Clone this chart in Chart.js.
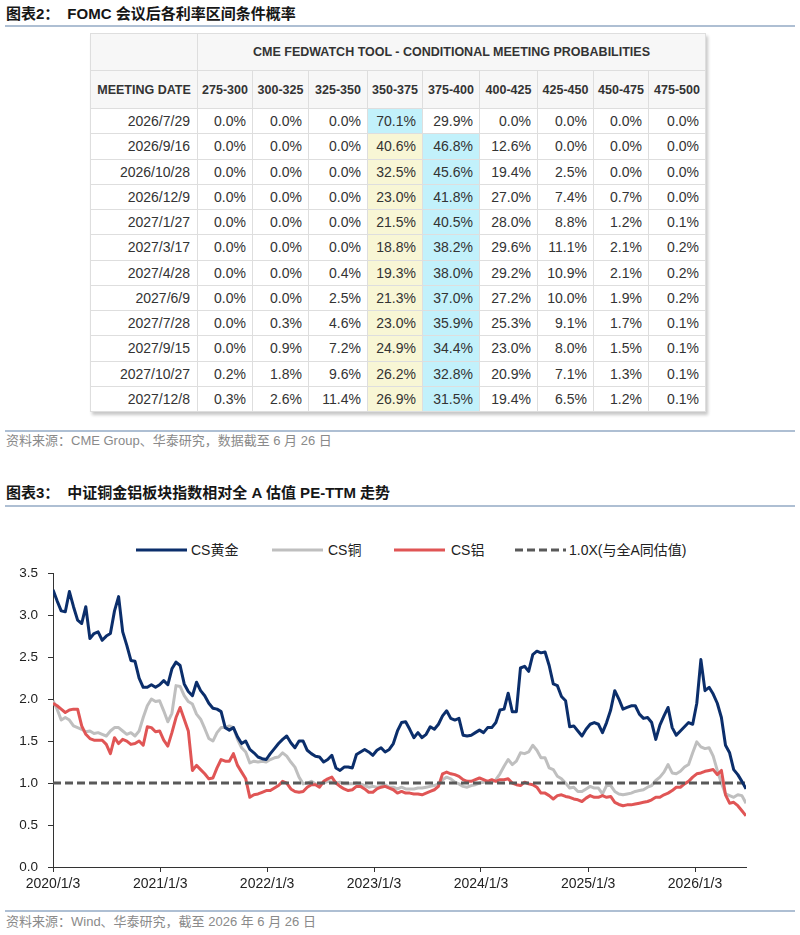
<!DOCTYPE html>
<html>
<head>
<meta charset="utf-8">
<script src="https://cdn.jsdelivr.net/npm/chart.js@4.4.1/dist/chart.umd.min.js"></script>
<style>
  body { margin: 0; width: 800px; height: 935px; position: relative; overflow: hidden; background: #fff;
         font-family: "Liberation Sans", Arial, "Noto Sans CJK SC", sans-serif; }
  .title { position: absolute; left: 6px; font-size: 15px; line-height: 20px; font-weight: bold; color: #161616; white-space: nowrap; }
  .title span { margin-left: 8px; }
  .rule { position: absolute; left: 5px; width: 790px; border-top: 2px solid #aebfd3; }
  .src { position: absolute; left: 6px; font-size: 13px; line-height: 18px; color: #8a8a8a; white-space: nowrap; }
  #fedTable { position: absolute; left: 90px; top: 33px; border-collapse: collapse; table-layout: fixed; width: 615px;
              box-shadow: 2px 3px 3px rgba(0,0,0,0.22); color: #333; }
  #fedTable td, #fedTable th { border: 1px solid #dedede; padding: 0; overflow: hidden; white-space: nowrap; }
  #fedTable th { background: #f7f7f7; font-size: 12.5px; font-weight: bold; text-align: center; }
  #fedTable td { font-size: 14px; text-align: right; padding-right: 6px; background: #fff; }
  #fedTable td.date { padding-right: 7px; }
  #fedTable td.max { background: #c2f1fb; }
  #fedTable td.cur { background: #f8f6d5; }
  #legend { position: absolute; top: 541px; left: 0; width: 800px; height: 18px; font-size: 14px; color: #222; }
  #legend div { position: absolute; top: 0; line-height: 18px; white-space: nowrap; }
  #legend svg { position: absolute; top: 7px; }
  #peChart { position: absolute; left: 0; top: 555px; }
</style>
</head>
<body>

<div class="title" style="top:4px">图表2：<span>FOMC 会议后各利率区间条件概率</span></div>
<div class="rule" style="top:25px"></div>

<table id="fedTable"></table>

<div class="rule" style="top:430px"></div>
<div class="src" style="top:432px">资料来源：CME Group、华泰研究，数据截至 6 月 26 日</div>

<div class="title" style="top:483px">图表3：<span>中证铜金铝板块指数相对全 A 估值 PE-TTM 走势</span></div>
<div class="rule" style="top:505px"></div>

<div id="legend"></div>
<canvas id="peChart" width="800" height="345"></canvas>

<div class="rule" style="top:910px"></div>
<div class="src" style="top:913px">资料来源：Wind、华泰研究，截至 2026 年 6 月 26 日</div>

<script>
// ---- FOMC table ----
const tableTitle = 'CME FEDWATCH TOOL - CONDITIONAL MEETING PROBABILITIES';
const meetingDates = ['2026/7/29', '2026/9/16', '2026/10/28', '2026/12/9', '2027/1/27', '2027/3/17',
                      '2027/4/28', '2027/6/9', '2027/7/28', '2027/9/15', '2027/10/27', '2027/12/8'];
const rateRanges = ['275-300', '300-325', '325-350', '350-375', '375-400', '400-425', '425-450', '450-475', '475-500'];
const currentRange = '350-375';
const probabilities = [
  [0.0, 0.0, 0.0, 70.1, 29.9, 0.0, 0.0, 0.0, 0.0],
  [0.0, 0.0, 0.0, 40.6, 46.8, 12.6, 0.0, 0.0, 0.0],
  [0.0, 0.0, 0.0, 32.5, 45.6, 19.4, 2.5, 0.0, 0.0],
  [0.0, 0.0, 0.0, 23.0, 41.8, 27.0, 7.4, 0.7, 0.0],
  [0.0, 0.0, 0.0, 21.5, 40.5, 28.0, 8.8, 1.2, 0.1],
  [0.0, 0.0, 0.0, 18.8, 38.2, 29.6, 11.1, 2.1, 0.2],
  [0.0, 0.0, 0.4, 19.3, 38.0, 29.2, 10.9, 2.1, 0.2],
  [0.0, 0.0, 2.5, 21.3, 37.0, 27.2, 10.0, 1.9, 0.2],
  [0.0, 0.3, 4.6, 23.0, 35.9, 25.3, 9.1, 1.7, 0.1],
  [0.0, 0.9, 7.2, 24.9, 34.4, 23.0, 8.0, 1.5, 0.1],
  [0.2, 1.8, 9.6, 26.2, 32.8, 20.9, 7.1, 1.3, 0.1],
  [0.3, 2.6, 11.4, 26.9, 31.5, 19.4, 6.5, 1.2, 0.1]
];
const colWidths = [107, 55, 56, 59, 55, 57, 58, 56, 55, 57];

let html = '<colgroup>' + colWidths.map(w => `<col style="width:${w}px">`).join('') + '</colgroup>';
html += `<tr style="height:37px"><th></th><th colspan="${rateRanges.length}">${tableTitle}</th></tr>`;
html += '<tr style="height:38px"><th>MEETING DATE</th>' + rateRanges.map(r => `<th>${r}</th>`).join('') + '</tr>';
probabilities.forEach((row, r) => {
  const max = Math.max(...row);
  html += `<tr style="height:25.25px"><td class="date">${meetingDates[r]}</td>`;
  row.forEach((p, c) => {
    let cls = '';
    if (p === max) cls = 'max';
    else if (rateRanges[c] === currentRange) cls = 'cur';
    html += `<td class="${cls}">${p.toFixed(1)}%</td>`;
  });
  html += '</tr>';
});
document.getElementById('fedTable').innerHTML = html;

// ---- PE-TTM relative valuation, one point every 14 days from 2020/1/3 ----
const startDate = '2020/1/3';
const stepDays = 14;
const tickLabels = ['2020/1/3', '2021/1/3', '2022/1/3', '2023/1/3', '2024/1/3', '2025/1/3', '2026/1/3'];

const gold = [
  3.30, 3.17, 3.05, 3.04, 3.28, 3.10, 2.94, 2.90, 3.10, 2.72,
  2.78, 2.80, 2.70, 2.75, 2.78, 3.05, 3.22, 2.80, 2.64, 2.46,
  2.45, 2.25, 2.14, 2.14, 2.17, 2.14, 2.17, 2.22, 2.17, 2.36,
  2.44, 2.40, 2.18, 2.09, 2.04, 2.20, 2.10, 2.04, 1.95, 1.89,
  1.88, 1.85, 1.66, 1.63, 1.66, 1.55, 1.47, 1.50, 1.40, 1.36,
  1.31, 1.29, 1.28, 1.35, 1.41, 1.47, 1.52, 1.56, 1.48, 1.42,
  1.50, 1.50, 1.39, 1.35, 1.32, 1.31, 1.25, 1.28, 1.33, 1.18,
  1.15, 1.19, 1.19, 1.18, 1.34, 1.37, 1.40, 1.37, 1.33, 1.39,
  1.42, 1.37, 1.40, 1.47, 1.62, 1.72, 1.73, 1.64, 1.54, 1.60,
  1.54, 1.58, 1.67, 1.64, 1.70, 1.80, 1.86, 1.77, 1.75, 1.77,
  1.57, 1.56, 1.57, 1.60, 1.63, 1.60, 1.66, 1.66, 1.72, 1.87,
  1.88, 2.07, 1.85, 1.85, 2.37, 2.39, 2.33, 2.53, 2.57, 2.55,
  2.56, 2.40, 2.18, 2.16, 2.03, 1.98, 1.67, 1.68, 1.62, 1.56,
  1.64, 1.70, 1.72, 1.70, 1.60, 1.72, 1.87, 2.10, 2.00, 1.88,
  1.90, 1.92, 1.92, 1.82, 1.77, 1.78, 1.72, 1.52, 1.69, 1.80,
  1.90, 1.66, 1.57, 1.62, 1.67, 1.72, 1.70, 1.95, 2.47, 2.10,
  2.14, 2.06, 1.95, 1.78, 1.45, 1.36, 1.16, 1.10, 1.02, 0.93
];
const copper = [
  1.98, 1.88, 1.75, 1.78, 1.75, 1.68, 1.66, 1.64, 1.61, 1.62,
  1.59, 1.60, 1.58, 1.56, 1.62, 1.66, 1.66, 1.62, 1.58, 1.60,
  1.56, 1.62, 1.78, 1.92, 2.00, 1.97, 1.98, 1.86, 1.73, 1.83,
  2.16, 2.15, 2.04, 1.97, 1.94, 1.82, 1.76, 1.65, 1.53, 1.50,
  1.60, 1.66, 1.66, 1.68, 1.66, 1.52, 1.42, 1.37, 1.24, 1.26,
  1.25, 1.26, 1.25, 1.28, 1.30, 1.31, 1.36, 1.32, 1.25, 1.19,
  1.07, 0.99, 1.00, 1.02, 0.99, 0.98, 1.00, 1.02, 1.01, 1.00,
  1.01, 0.99, 0.99, 0.99, 1.00, 0.99, 0.97, 0.95, 0.96, 0.95,
  0.96, 0.98, 0.95, 0.95, 0.93, 0.95, 0.93, 0.93, 0.93, 0.94,
  0.94, 0.95, 0.96, 0.97, 0.99, 1.04, 1.07, 1.05, 1.01, 0.99,
  0.96, 0.95, 0.97, 0.98, 1.00, 1.01, 1.02, 1.01, 1.04, 1.11,
  1.20, 1.28, 1.22, 1.26, 1.36, 1.35, 1.37, 1.45, 1.39, 1.30,
  1.30, 1.18, 1.16, 1.08, 1.05, 1.00, 0.94, 0.95, 0.90, 0.90,
  0.93, 0.96, 0.94, 0.94, 0.87, 0.97, 0.97, 0.90, 0.87, 0.86,
  0.87, 0.88, 0.90, 0.91, 0.92, 0.95, 0.97, 1.03, 1.07, 1.13,
  1.22, 1.12, 1.11, 1.14, 1.19, 1.22, 1.36, 1.49, 1.43, 1.41,
  1.42, 1.32, 1.15, 1.00, 0.87, 0.85, 0.83, 0.86, 0.85, 0.76
];
const aluminium = [
  1.95, 1.92, 1.88, 1.84, 1.87, 1.88, 1.88, 1.68, 1.58, 1.53,
  1.51, 1.51, 1.51, 1.46, 1.35, 1.54, 1.47, 1.52, 1.50, 1.46,
  1.47, 1.50, 1.45, 1.67, 1.66, 1.61, 1.62, 1.51, 1.44, 1.60,
  1.78, 1.90, 1.76, 1.62, 1.15, 1.21, 1.16, 1.11, 1.05, 1.06,
  1.18, 1.28, 1.26, 1.26, 1.35, 1.21, 1.13, 1.05, 0.83, 0.86,
  0.87, 0.89, 0.91, 0.91, 0.94, 0.97, 1.02, 1.00, 0.93, 0.90,
  0.89, 0.90, 0.95, 0.98, 0.98, 0.95, 1.02, 1.05, 1.07, 1.00,
  0.96, 0.93, 0.91, 0.92, 0.96, 0.96, 0.93, 0.89, 0.89, 0.93,
  0.95, 0.96, 0.94, 0.92, 0.88, 0.90, 0.88, 0.88, 0.87, 0.87,
  0.86, 0.88, 0.90, 0.92, 0.96, 1.11, 1.13, 1.11, 1.10, 1.08,
  1.04, 1.02, 1.02, 1.04, 1.06, 1.04, 1.02, 1.04, 1.02, 1.04,
  1.04, 1.05, 1.00, 0.98, 0.97, 1.01, 0.99, 0.98, 0.95, 0.88,
  0.88, 0.85, 0.81, 0.85, 0.86, 0.84, 0.83, 0.81, 0.80, 0.78,
  0.82, 0.85, 0.83, 0.83, 0.85, 0.83, 0.84, 0.77, 0.745, 0.73,
  0.74, 0.74, 0.75, 0.76, 0.77, 0.78, 0.80, 0.83, 0.83, 0.86,
  0.88, 0.91, 0.95, 0.95, 0.99, 1.02, 1.07, 1.11, 1.12, 1.14,
  1.15, 1.16, 1.10, 1.15, 0.86, 0.76, 0.77, 0.73, 0.67, 0.61
];
const parityLevel = 1.0;

const seriesNames = ['CS黄金', 'CS铜', 'CS铝', '1.0X(与全A同估值)'];
const seriesColors = ['#0b2e6b', '#bfbfbf', '#e05555', '#595959'];

const toUTC = s => { const [y, m, d] = s.split('/').map(Number); return Date.UTC(y, m - 1, d); };
const dayOf = s => (toUTC(s) - toUTC(startDate)) / 864e5;
const days = gold.map((_, i) => i * stepDays);
const tickDays = tickLabels.map(dayOf);
const parity = days.map(() => parityLevel);

// legend (html)
const legendPos = [[136, 191], [272, 328], [394, 451], [515, 569]];
document.getElementById('legend').innerHTML = seriesNames.map((name, i) => {
  const [lx, tx] = legendPos[i];
  const dash = i === 3 ? ' stroke-dasharray="8 4"' : '';
  return `<svg style="left:${lx}px" width="51" height="4"><line x1="0" y1="2" x2="51" y2="2" stroke="${seriesColors[i]}" stroke-width="3"${dash}/></svg>` +
         `<div style="left:${tx}px">${name}</div>`;
}).join('');

Chart.defaults.font.family = '"Liberation Sans", Arial, sans-serif';
Chart.defaults.color = '#222';

const axisColor = '#333';

new Chart(document.getElementById('peChart'), {
  type: 'line',
  data: {
    labels: days,
    datasets: [
      { label: seriesNames[0], data: gold, borderColor: seriesColors[0], order: 0 },
      { label: seriesNames[1], data: copper, borderColor: seriesColors[1], order: 3 },
      { label: seriesNames[2], data: aluminium, borderColor: seriesColors[2], order: 2 },
      { label: seriesNames[3], data: parity, borderColor: seriesColors[3], borderDash: [8, 4], order: 1 }
    ]
  },
  options: {
    responsive: false,
    animation: false,
    devicePixelRatio: 1,
    layout: { padding: { top: 8, right: 54, left: 0, bottom: 0 } },
    elements: {
      point: { radius: 0 },
      line: { borderWidth: 3, tension: 0, fill: false, borderJoinStyle: 'round' }
    },
    plugins: { legend: { display: false }, tooltip: { enabled: false } },
    scales: {
      x: {
        type: 'linear',
        min: 0,
        max: days[days.length - 1],
        afterBuildTicks: axis => { axis.ticks = tickDays.map(v => ({ value: v })); },
        afterFit: axis => { axis.height = 33; },
        ticks: {
          autoSkip: false, maxRotation: 0, padding: 4,
          font: { size: 14 }, color: '#222',
          callback: v => tickLabels[tickDays.indexOf(v)]
        },
        grid: { drawOnChartArea: false, tickLength: 5, color: axisColor },
        border: { color: axisColor, width: 1 }
      },
      y: {
        min: 0,
        max: 3.5,
        afterFit: axis => { axis.width = 53; },
        ticks: { stepSize: 0.5, padding: 10, font: { size: 13.5 }, color: '#222', callback: v => v.toFixed(1) },
        grid: { drawOnChartArea: false, tickLength: 5, color: axisColor },
        border: { color: axisColor, width: 1 }
      }
    }
  }
});
</script>
</body>
</html>
